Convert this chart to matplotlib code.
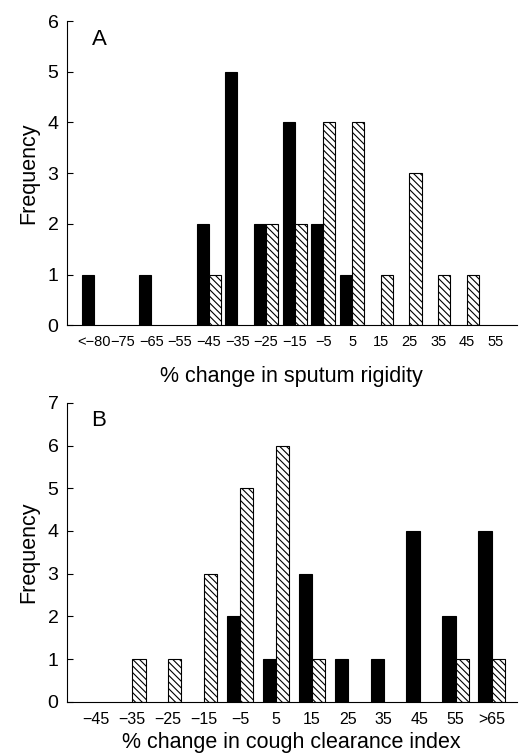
import numpy as np
import matplotlib
matplotlib.use("Agg")
import matplotlib.pyplot as plt

plt.rcParams['font.family'] = ['Liberation Sans', 'DejaVu Sans']
plt.rcParams['hatch.linewidth'] = 0.8

# panel A: sputum rigidity
cats_a = ["<\u221280", "\u221275", "\u221265", "\u221255", "\u221245", "\u221235", "\u221225",
          "\u221215", "\u22125", "5", "15", "25", "35", "45", "55"]
solid_a = [1, 0, 1, 0, 2, 5, 2, 4, 2, 1, 0, 0, 0, 0, 0]
hatched_a = [0, 0, 0, 0, 1, 0, 2, 2, 4, 4, 1, 3, 1, 1, 0]

# panel B: cough clearance index
cats_b = ["\u221245", "\u221235", "\u221225", "\u221215", "\u22125", "5", "15", "25",
          "35", "45", "55", ">65"]
solid_b = [0, 0, 0, 0, 2, 1, 3, 1, 1, 4, 2, 4]
hatched_b = [0, 1, 1, 3, 5, 6, 1, 0, 0, 0, 1, 1]

fig = plt.figure(figsize=(5.22, 7.53), dpi=100)
ax_a = fig.add_axes([0.128, 0.568, 0.862, 0.404])
ax_b = fig.add_axes([0.128, 0.068, 0.862, 0.397])


def draw(ax, cats, solid, hatched, w, xlim, ymax, letter, xlabel, lab_size, xpad):
    x = np.arange(len(cats))
    s = np.array(solid)
    h = np.array(hatched)
    # solid bar left of the category center, hatched bar right of it
    ax.bar(x[s > 0] - w, s[s > 0], width=w, align='edge', color='black',
           edgecolor='black', linewidth=0.8)
    ax.bar(x[h > 0], h[h > 0], width=w, align='edge', color='white',
           edgecolor='black', linewidth=0.8, hatch='\\\\\\\\\\')
    ax.set_xlim(*xlim)
    ax.set_ylim(0, ymax)
    ax.set_xticks(x)
    ax.set_xticklabels(cats, fontsize=lab_size)
    ax.tick_params(axis='x', length=0, pad=7)
    ax.set_yticks(range(ymax + 1))
    ax.tick_params(axis='y', direction='in', length=4, labelsize=14, pad=6)
    for sp in ['top', 'right']:
        ax.spines[sp].set_visible(False)
    ax.spines['left'].set_linewidth(0.8)
    ax.spines['bottom'].set_linewidth(0.8)
    ax.set_ylabel("Frequency", fontsize=15.5, labelpad=6)
    ax.set_xlabel(xlabel, fontsize=15.5, labelpad=xpad)
    ax.text(0.055, 0.975, letter, transform=ax.transAxes, fontsize=16,
            va='top', ha='left')


draw(ax_a, cats_a, solid_a, hatched_a, 0.42, (-0.94, 14.74), 6, "A",
     "% change in sputum rigidity", 10.5, 12)
draw(ax_b, cats_b, solid_b, hatched_b, 0.37, (-0.82, 11.7), 7, "B",
     "% change in cough clearance index", 11.5, 4)

fig.savefig("out.png", dpi=100)
